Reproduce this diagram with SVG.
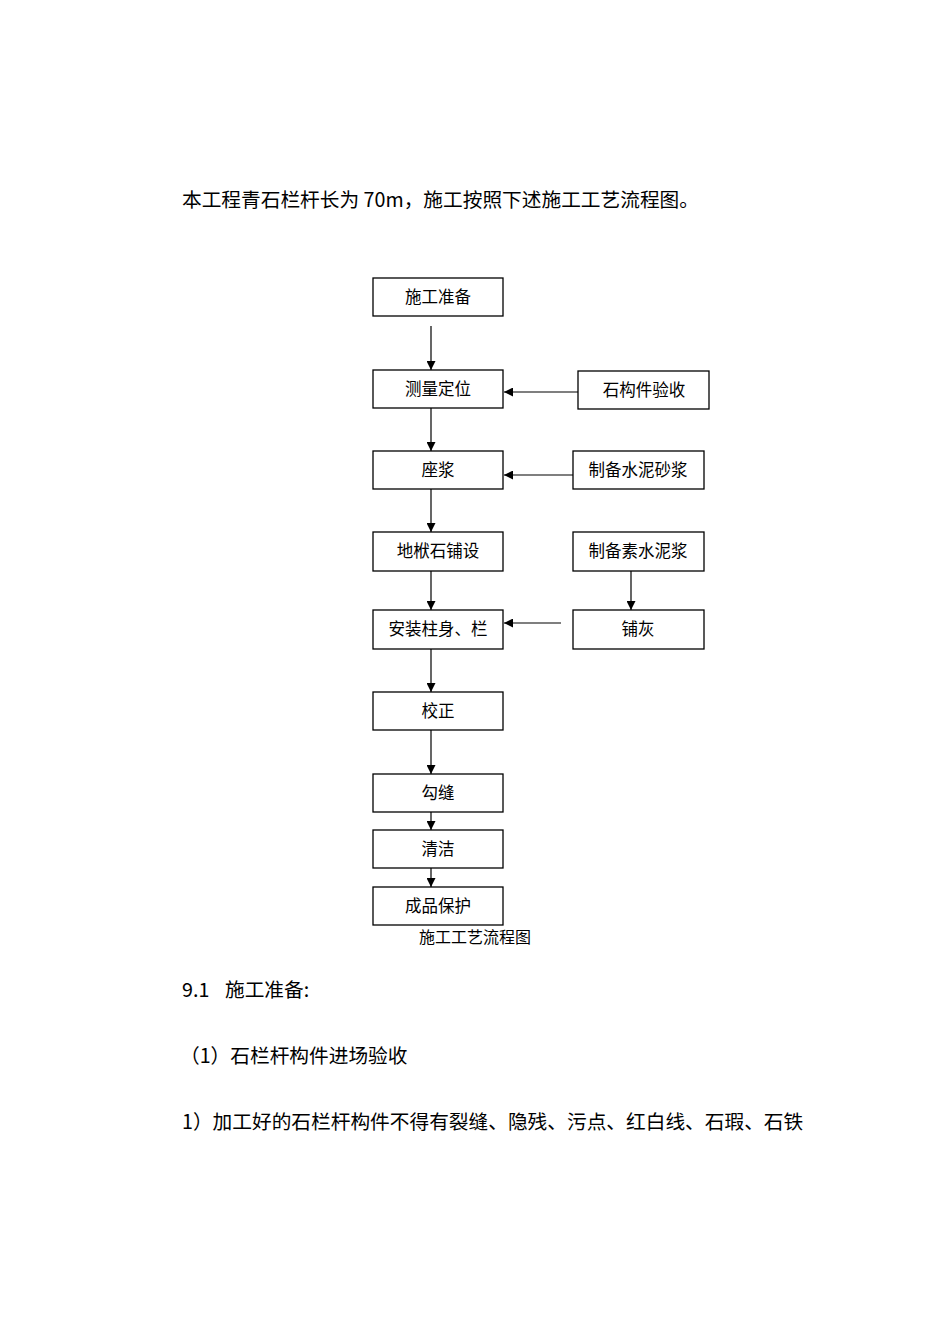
<svg xmlns="http://www.w3.org/2000/svg" width="950" height="1344" viewBox="0 0 950 1344">
<style>
text{font-family:"Noto Sans CJK SC","Noto Sans",sans-serif;fill:#000}
.box rect{fill:#fff;stroke:#000;stroke-width:1.3}
.box text{font-size:16.5px;text-anchor:middle}
.body{font-size:19.7px}
.conn line{stroke:#000;stroke-width:1.2}
</style>
<defs>
<marker id="ah" viewBox="0 0 10 10" refX="10" refY="5" markerWidth="9" markerHeight="9" markerUnits="userSpaceOnUse" orient="auto">
<path d="M0,0 L10,5 L0,10 z" fill="#000"/>
</marker>
</defs>
<rect width="950" height="1344" fill="#fff"/>
<text class="body" x="182" y="207">本工程青石栏杆长为 70m，施工按照下述施工工艺流程图。</text>

<g class="conn">
<line x1="431" y1="326" x2="431" y2="370" marker-end="url(#ah)"/>
<line x1="431" y1="408" x2="431" y2="451" marker-end="url(#ah)"/>
<line x1="431" y1="489" x2="431" y2="532" marker-end="url(#ah)"/>
<line x1="431" y1="571" x2="431" y2="610" marker-end="url(#ah)"/>
<line x1="431" y1="649" x2="431" y2="692" marker-end="url(#ah)"/>
<line x1="431" y1="730" x2="431" y2="774" marker-end="url(#ah)"/>
<line x1="431" y1="812" x2="431" y2="830" marker-end="url(#ah)"/>
<line x1="431" y1="868" x2="431" y2="887" marker-end="url(#ah)"/>
<line x1="578" y1="392" x2="504" y2="392" marker-end="url(#ah)"/>
<line x1="573" y1="475" x2="504" y2="475" marker-end="url(#ah)"/>
<line x1="561" y1="623" x2="504" y2="623" marker-end="url(#ah)"/>
<line x1="631" y1="571" x2="631" y2="610" marker-end="url(#ah)"/>
</g>

<g id="n1" class="box"><rect x="373" y="278" width="130" height="38"/><text x="438" y="303">施工准备</text></g>
<g id="n2" class="box"><rect x="373" y="370" width="130" height="38"/><text x="438" y="395">测量定位</text></g>
<g id="n3" class="box"><rect x="373" y="451" width="130" height="38"/><text x="438" y="476">座浆</text></g>
<g id="n4" class="box"><rect x="373" y="532" width="130" height="39"/><text x="438" y="557">地栿石铺设</text></g>
<g id="n5" class="box"><rect x="373" y="610" width="130" height="39"/><text x="438" y="635">安装柱身、栏</text></g>
<g id="n6" class="box"><rect x="373" y="692" width="130" height="38"/><text x="438" y="717">校正</text></g>
<g id="n7" class="box"><rect x="373" y="774" width="130" height="38"/><text x="438" y="799">勾缝</text></g>
<g id="n8" class="box"><rect x="373" y="830" width="130" height="38"/><text x="438" y="855">清洁</text></g>
<g id="n9" class="box"><rect x="373" y="887" width="130" height="38"/><text x="438" y="912">成品保护</text></g>
<g id="r1" class="box"><rect x="578" y="371" width="131" height="38"/><text x="644" y="396">石构件验收</text></g>
<g id="r2" class="box"><rect x="573" y="451" width="131" height="38"/><text x="638" y="476">制备水泥砂浆</text></g>
<g id="r3" class="box"><rect x="573" y="532" width="131" height="39"/><text x="638" y="557">制备素水泥浆</text></g>
<g id="r4" class="box"><rect x="573" y="610" width="131" height="39"/><text x="638" y="635">铺灰</text></g>

<text x="475" y="943" font-size="16" text-anchor="middle">施工工艺流程图</text>
<text class="body" x="182" y="997">9.1</text>
<text class="body" x="225" y="997">施工准备:</text>
<text class="body" x="180" y="1063">（1）石栏杆构件进场验收</text>
<text class="body" x="182" y="1129">1）加工好的石栏杆构件不得有裂缝、隐残、污点、红白线、石瑕、石铁</text>
</svg>
